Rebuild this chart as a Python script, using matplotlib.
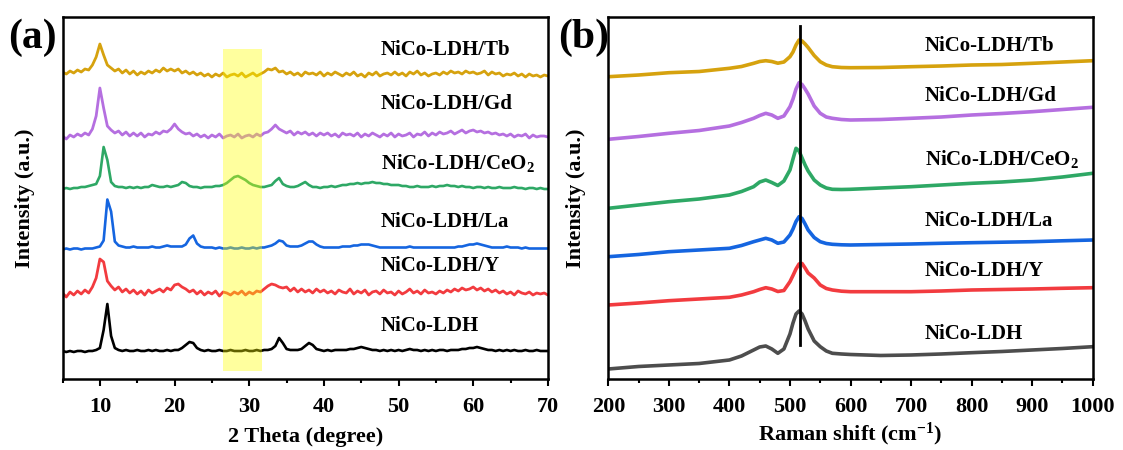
import numpy as np
import matplotlib
matplotlib.use("Agg")
import matplotlib.pyplot as plt

plt.rcParams['font.family'] = ['Liberation Serif', 'DejaVu Serif']
plt.rcParams['font.weight'] = 'bold'
plt.rcParams['mathtext.fontset'] = 'custom'
plt.rcParams['mathtext.rm'] = 'Liberation Serif:bold'
plt.rcParams['mathtext.it'] = 'Liberation Serif:bold'
plt.rcParams['mathtext.bf'] = 'Liberation Serif:bold'

# ---------------- XRD (a) ----------------
two_theta = np.arange(5.0, 70.01, 0.5)   # 131 points

xrd_ldh = [1, 0, 1, 0, 1, 1, 0, 1, 1, 2,
           4, 22, 48, 16, 4, 2, 1, 2, 1, 1,
           2, 1, 1, 2, 1, 2, 1, 1, 2, 1,
           2, 2, 4, 7, 10, 9, 4, 2, 1, 2,
           1, 1, 2, 1, 1, 2, 1, 1, 1, 2,
           1, 1, 2, 1, 2, 2, 3, 6, 14, 9,
           3, 2, 2, 2, 3, 6, 9, 7, 3, 2,
           1, 2, 1, 2, 2, 2, 2, 3, 3, 4,
           5, 4, 3, 2, 2, 1, 2, 1, 2, 1,
           2, 1, 2, 3, 2, 2, 1, 2, 1, 2,
           1, 2, 2, 1, 2, 2, 2, 3, 3, 4,
           4, 5, 4, 3, 2, 2, 1, 2, 1, 2,
           1, 2, 1, 1, 2, 1, 1, 2, 1, 1,
           1]

xrd_y = [2, -2, 3, 0, 4, 1, 5, 2, 8, 17,
         36, 33, 14, 9, 5, 8, 3, 6, 2, 5,
         1, 4, 0, 5, 2, 4, 6, 3, 7, 5,
         10, 11, 8, 6, 3, 5, 1, 4, 0, 3,
         1, 4, -1, 3, 2, 0, 3, 1, 4, 0,
         3, 1, 4, 3, 6, 9, 11, 10, 8, 7,
         8, 4, 7, 3, 6, 3, 5, 2, 6, 3,
         5, 2, 4, 1, 5, 3, 2, 6, 1, 4,
         2, 5, 0, 3, 4, 1, 5, 2, 3, 0,
         4, 1, 3, 6, 2, 4, 1, 5, 2, 3,
         1, 4, 2, 5, 3, 6, 4, 7, 5, 6,
         8, 5, 7, 4, 6, 3, 5, 2, 4, 1,
         3, 0, 4, 2, 1, 3, 0, 2, 1, 2,
         0]

xrd_la = [0, 1, 0, 1, 1, 0, 1, 1, 1, 2,
          3, 9, 50, 38, 8, 4, 3, 2, 2, 3,
          2, 2, 2, 2, 3, 2, 2, 3, 4, 3,
          3, 3, 3, 5, 11, 14, 6, 3, 2, 2,
          2, 1, 2, 1, 1, 2, 1, 1, 2, 1,
          1, 2, 1, 2, 2, 3, 4, 6, 9, 8,
          4, 3, 3, 3, 4, 6, 8, 8, 5, 3,
          2, 2, 2, 2, 2, 3, 3, 3, 4, 4,
          5, 5, 5, 4, 3, 2, 2, 2, 2, 2,
          2, 2, 2, 3, 2, 2, 2, 2, 2, 2,
          2, 2, 2, 2, 2, 2, 3, 3, 4, 5,
          5, 6, 5, 4, 3, 2, 2, 2, 2, 3,
          2, 2, 2, 1, 2, 1, 1, 1, 1, 1,
          1]

xrd_ceo2 = [1, 2, 1, 2, 2, 3, 3, 4, 5, 6,
            14, 43, 30, 8, 4, 3, 3, 2, 3, 2,
            3, 2, 3, 3, 5, 4, 3, 3, 4, 3,
            4, 5, 8, 7, 4, 3, 3, 2, 3, 3,
            3, 4, 4, 5, 7, 10, 13, 14, 12, 10,
            7, 5, 4, 3, 3, 4, 5, 9, 12, 6,
            4, 3, 3, 4, 6, 8, 5, 3, 3, 2,
            3, 3, 4, 3, 4, 5, 5, 6, 6, 7,
            6, 7, 7, 8, 7, 7, 6, 6, 5, 5,
            5, 4, 4, 3, 3, 4, 3, 3, 3, 4,
            3, 4, 4, 5, 4, 4, 3, 4, 3, 3,
            2, 3, 3, 2, 3, 2, 2, 3, 2, 2,
            2, 3, 2, 2, 1, 2, 2, 1, 2, 1,
            1]

xrd_gd = [2, -1, 3, 1, 4, 2, 5, 3, 9, 22,
          50, 30, 12, 8, 5, 7, 3, 6, 2, 5,
          2, 5, 1, 4, 3, 6, 4, 7, 6, 9,
          14, 9, 6, 4, 5, 2, 4, 1, 3, 0,
          3, 1, 4, 0, 2, 3, 1, 4, 0, 2,
          3, 1, 4, 2, 5, 6, 9, 13, 9, 7,
          5, 7, 3, 6, 4, 6, 3, 5, 2, 5,
          3, 5, 2, 4, 1, 5, 3, 4, 2, 5,
          1, 4, 2, 5, 3, 1, 4, 2, 5, 1,
          4, 2, 3, 5, 1, 4, 3, 6, 2, 5,
          3, 6, 4, 5, 7, 4, 6, 8, 5, 7,
          8, 6, 7, 5, 6, 4, 5, 3, 4, 2,
          4, 1, 3, 2, 4, 0, 3, 1, 2, 2,
          1]

xrd_tb = [5, 3, 6, 4, 7, 5, 8, 7, 12, 20,
          33, 22, 12, 9, 6, 8, 4, 7, 3, 6,
          2, 5, 3, 6, 4, 7, 5, 9, 6, 8,
          6, 8, 4, 6, 3, 5, 2, 4, 1, 3,
          0, 3, 1, 4, 0, 2, 3, 1, 4, 0,
          2, 4, 1, 3, 5, 8, 7, 9, 5, 6,
          3, 5, 2, 4, 1, 5, 3, 4, 2, 5,
          1, 4, 2, 5, 3, 1, 4, 2, 5, 1,
          3, 0, 4, 2, 5, 1, 3, 4, 2, 5,
          2, 4, 1, 5, 3, 6, 2, 4, 1, 3,
          4, 2, 5, 3, 6, 4, 5, 3, 6, 4,
          5, 3, 4, 6, 2, 5, 3, 4, 1, 3,
          2, 4, 1, 3, 0, 3, 1, 2, 0, 2,
          1]

# ---------------- Raman (b) ----------------
raman_shift = [200, 250, 300, 350, 400, 420, 440, 450, 460, 470, 480, 490,
               500, 505, 510, 515, 520, 525, 530, 540, 550, 560, 570, 585,
               600, 650, 700, 750, 800, 850, 900, 950, 1000]

raman_tb = [302.3, 304, 306.3, 307.5, 310.7, 312.5, 315.7, 317.5, 318.3, 317.5, 315.8, 317,
            322.3, 327, 334, 339, 338, 335, 331.5, 323.5, 317.3, 314, 312.3, 311.5,
            311.3, 311.5, 312.3, 313, 314, 314.5, 315.7, 317, 318.3]
raman_gd = [239.7, 242.5, 245.7, 248.5, 253, 256.5, 260.7, 263.5, 265.7, 264, 260.7, 263,
            272.3, 280, 290, 296.3, 294.5, 290, 285, 273, 265.7, 262, 260.7, 259.5,
            259, 259.5, 260.7, 262, 264, 265.5, 267.3, 269.5, 271.7]
raman_ceo2 = [170.7, 174, 177.3, 180, 184, 187.5, 192.3, 197, 199, 196.5, 193.5, 198,
              209, 220, 230.7, 228, 221, 214, 208, 199, 194, 191, 189.7, 189.5,
              189.7, 191, 192.3, 194, 195.7, 197, 199, 202, 205.7]
raman_la = [122.3, 124.5, 127.3, 129, 130.7, 133.5, 137.3, 139, 140.7, 139, 135.7, 137,
            144, 150, 157.5, 162.3, 160.5, 155, 149, 141.5, 137.3, 135.5, 134.7, 134.2,
            134, 134.5, 135, 135.7, 136.3, 136.8, 137.3, 138.2, 139]
raman_y = [74, 76, 78.3, 80, 81.7, 84, 87.3, 89.5, 91.3, 90, 87.5, 88.5,
           97.3, 103.5, 110, 115, 115.5, 111, 106, 101, 94, 90.5, 89, 87.8,
           87.3, 87.3, 87.3, 88, 89, 89.5, 90, 90.7, 91.3]
raman_ldh = [10, 12.5, 14, 15.5, 19, 23, 29, 32, 33, 30, 25.7, 30,
             45, 56, 65, 68, 65, 58, 50, 38, 32.3, 28, 25.7, 25,
             24.5, 23.5, 24, 25, 26.3, 27.5, 29, 30.5, 32.3]

sample_names = ['NiCo-LDH', 'NiCo-LDH/Y', 'NiCo-LDH/La',
                r'NiCo-LDH/CeO$_2$', 'NiCo-LDH/Gd', 'NiCo-LDH/Tb']
xrd_series = [xrd_ldh, xrd_y, xrd_la, xrd_ceo2, xrd_gd, xrd_tb]
raman_series = [raman_ldh, raman_y, raman_la, raman_ceo2, raman_gd, raman_tb]

# stacking offsets and label heights (plot units)
xrd_offsets = [27, 84, 129.5, 189, 241, 302]
label_y_a = [53, 113, 157, 216, 275, 329]
label_y_b = [45, 108, 158, 220, 283, 333]
xrd_colors = ['#000000', '#F23B3F', '#1565E0', '#2EA865', '#B56FE0', '#D6A20E']
xrd_widths = [1.9, 2.0, 1.9, 1.9, 2.0, 2.0]
raman_colors = ['#4D4D4D', '#F23B3F', '#1565E0', '#2EA865', '#B56FE0', '#D6A20E']

fig = plt.figure(figsize=(11.23, 4.5), dpi=100)
ax1 = fig.add_axes([0.0557, 0.1578, 0.4322, 0.8044])
ax2 = fig.add_axes([0.5417, 0.1578, 0.4313, 0.8044])

for ys, off, c, w in zip(xrd_series, xrd_offsets, xrd_colors, xrd_widths):
    ax1.plot(two_theta, np.array(ys) + off, color=c, lw=w)
ax1.axvspan(26.5, 31.7, ymin=0.022, ymax=0.913, color='#FFFF00', alpha=0.38, lw=0, zorder=5)

for ys, c in zip(raman_series, raman_colors):
    ax2.plot(raman_shift, ys, color=c, lw=2.6, solid_capstyle='round')
ax2.plot([516, 516], [34, 353], color='black', lw=2, zorder=6)

for name, yl in zip(sample_names, label_y_a):
    ax1.text(47.6, yl, name, fontsize=15, fontweight='bold', va='center')
for name, yl in zip(sample_names, label_y_b):
    ax2.text(723, yl, name, fontsize=15, fontweight='bold', va='center')

ax1.set_xlim(5, 70)
ax2.set_xlim(200, 1000)
for ax in (ax1, ax2):
    ax.set_ylim(0, 362)
    ax.set_yticks([])
    ax.tick_params(axis='x', which='major', direction='out', length=5, width=1.5,
                   labelsize=16, pad=8)
    ax.tick_params(axis='x', which='minor', direction='out', length=3, width=1.5)
    for s in ax.spines.values():
        s.set_linewidth(1.8)

ax1.set_ylabel('Intensity (a.u.)', fontsize=16, fontweight='bold', labelpad=20)
ax2.set_ylabel('Intensity (a.u.)', fontsize=16, fontweight='bold', labelpad=16)

ax1.set_xticks(np.arange(10, 71, 10))
ax1.set_xticks(np.arange(5, 71, 5), minor=True)
ax2.set_xticks(np.arange(200, 1001, 100))
ax2.set_xticks(np.arange(200, 1001, 50), minor=True)

ax1.set_xlabel('2 Theta (degree)', fontsize=16, fontweight='bold', labelpad=7)
ax2.set_xlabel(r'Raman shift (cm$^{-1}$)', fontsize=16, fontweight='bold', labelpad=3)

fig.text(0.007, 0.915, '(a)', fontsize=30, fontweight='bold', va='center')
fig.text(0.497, 0.915, '(b)', fontsize=30, fontweight='bold', va='center')

fig.savefig('out.png', dpi=100)
